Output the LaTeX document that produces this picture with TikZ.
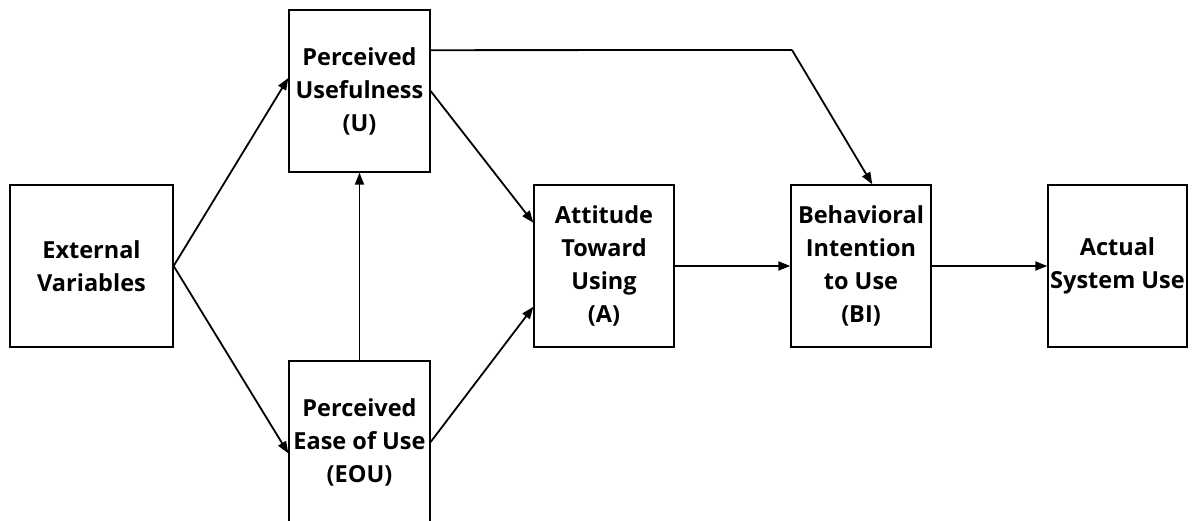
\documentclass[tikz,border=0pt]{standalone}
\usepackage{fontspec}
\setmainfont{Open Sans}
\usetikzlibrary{arrows.meta,calc}
\begin{document}
\begin{tikzpicture}[x=1pt,y=-1pt,
  box/.style={draw=black,line width=1.3pt,minimum width=140pt,minimum height=162pt,inner sep=0pt,align=center,
    font=\fontsize{23.5}{33}\selectfont\bfseries},
  arr/.style={line width=1.8pt,-{Triangle[length=12pt,width=9pt]}},
  ln/.style={line width=1.8pt}]
\useasboundingbox (0,0) rectangle (1192,521);
\clip (0,0) rectangle (1192,521);
\fill[white] (0,0) rectangle (1192,521);
\node[box,minimum width=163pt] (ext) at (91.5,266) {External\\Variables};
\node[box,minimum width=141pt] (pu) at (359.5,91) {Perceived\\Usefulness\\(U)};
\node[box,minimum width=141pt] (eou) at (359.5,442) {Perceived\\Ease of Use\\(EOU)};
\node[box] (att) at (604,266) {Attitude\\Toward\\Using\\(A)};
\node[box] (bi) at (861,266) {Behavioral\\Intention\\to Use\\(BI)};
\node[box,minimum width=139pt] (asu) at (1117.5,266) {Actual\\System Use};
\coordinate (bend) at (792,50);
\draw[arr] (ext.east) -- ($(pu.north west)!0.42!(pu.south west)$);
\draw[arr] (ext.east) -- ($(eou.north west)!0.57!(eou.south west)$);
\draw[arr] (eou.north) -- (pu.south);
\draw[arr] (pu.east) -- ($(att.north west)!0.235!(att.south west)$);
\draw[arr] (eou.east) -- ($(att.north west)!0.75!(att.south west)$);
\draw[ln] ($(pu.north east)!0.25!(pu.south east)$) -- (bend);
\draw[arr] (bend) -- ($(bi.north west)!0.58!(bi.north east)$);
\draw[arr] (att.east) -- (bi.west);
\draw[arr] (bi.east) -- (asu.west);
\end{tikzpicture}
\end{document}
